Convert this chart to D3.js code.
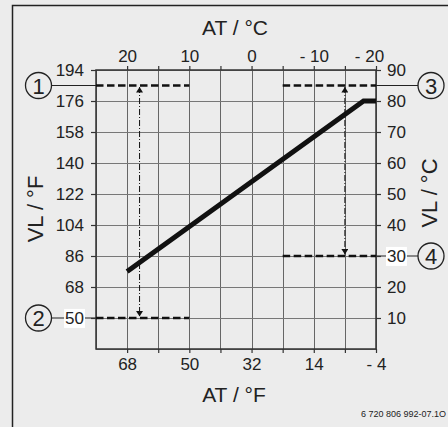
<!DOCTYPE html>
<head>
  <meta charset="utf-8">
  <script src="https://d3js.org/d3.v7.min.js"></script>
  <style>
    body { margin:0; background:#ececec; }
    text { font-family:"Liberation Sans", Arial, sans-serif; fill:#222; }
    .axis path.domain { display:none; }
    .axis line { stroke:#333; stroke-width:1.2; }
    .axis text { font-size:17px; fill:#222; }
  </style>
</head>

<body>
<script>

/* Data */
/* ==== */

// outside temperature (AT) in °C, every 5 degrees gets a grid line
var atGrid = [25, 20, 15, 10, 5, 0, -5, -10, -15, -20];
var atTopLabels = { 20: '20', 10: '10', 0: '0', '-10': '- 10', '-20': '- 20' };
var atBottomLabels = { 20: '68', 10: '50', 0: '32', '-10': '14', '-20': '- 4' };

// flow temperature (VL) in °C, every 10 degrees
var vlGrid = [0, 10, 20, 30, 40, 50, 60, 70, 80, 90];
var vlTicks = [90, 80, 70, 60, 50, 40, 30, 20, 10];
var vlFahrenheit = ['194', '176', '158', '140', '122', '104', '86', '68', '50'];

// heating curve [AT, VL]
var curve = [[20, 25], [-18, 80], [-20, 80]];

// limit lines: [AT from, AT to, VL, marker]
var limits = [
  [25, 10, 85, '1'],
  [25, 10, 10, '2'],
  [-5, -20, 85, '3'],
  [-5, -20, 30, '4']
];

// arrows: [AT, VL top, VL bottom]
var arrows = [[18, 85, 10], [-15, 85, 30]];


/* Set up */
/* ====== */

var width = 448,
    height = 427,
    plot = { left: 96, right: 376, top: 70, bottom: 349 };

var svg = d3.select('body')
  .append('svg')
    .attr('width', width)
    .attr('height', height);

var x = d3.scaleLinear().domain([25, -20]).range([plot.left, plot.right]);
var y = d3.scaleLinear().domain([0, 90]).range([plot.bottom, plot.top]);

// outer frame
svg.append('rect')
    .attr('x', 12.5)
    .attr('y', 5.5)
    .attr('width', width)
    .attr('height', height)
    .attr('fill', 'none')
    .attr('stroke', '#222')
    .attr('stroke-width', 1.5);


// Grid

svg.selectAll('.vgrid')
    .data(atGrid)
    .enter()
  .append('line')
    .attr('x1', function(d) { return Math.round(x(d)) + 0.5; })
    .attr('x2', function(d) { return Math.round(x(d)) + 0.5; })
    .attr('y1', plot.top)
    .attr('y2', plot.bottom)
    .attr('stroke', '#666')
    .attr('stroke-width', 1);

svg.selectAll('.hgrid')
    .data(vlGrid)
    .enter()
  .append('line')
    .attr('x1', plot.left)
    .attr('x2', plot.right)
    .attr('y1', function(d) { return Math.round(y(d)) + 0.5; })
    .attr('y2', function(d) { return Math.round(y(d)) + 0.5; })
    .attr('stroke', '#777')
    .attr('stroke-width', 1);

svg.append('rect')
    .attr('x', plot.left)
    .attr('y', plot.top)
    .attr('width', plot.right - plot.left)
    .attr('height', plot.bottom - plot.top)
    .attr('fill', 'none')
    .attr('stroke', '#333')
    .attr('stroke-width', 1.5);


// Axes

var topAxis = svg.append('g')
    .attr('class', 'axis')
    .attr('transform', 'translate(0,' + plot.top + ')')
    .call(d3.axisTop(x).tickValues(atGrid.slice(1)).tickSize(4).tickPadding(4)
      .tickFormat(function(d) { return atTopLabels[d] || ''; }));

// the last label sits a little inside the corner
topAxis.selectAll('.tick text')
    .filter(function(d) { return d === -20; })
    .attr('dx', -7);

svg.append('g')
    .attr('class', 'axis')
    .attr('transform', 'translate(0,' + plot.bottom + ')')
    .call(d3.axisBottom(x).tickValues(atGrid.slice(1)).tickSize(4).tickPadding(5)
      .tickFormat(function(d) { return atBottomLabels[d] || ''; }));

var leftAxis = svg.append('g')
    .attr('class', 'axis')
    .attr('transform', 'translate(' + plot.left + ',0)')
    .call(d3.axisLeft(y).tickValues(vlTicks).tickSize(5).tickPadding(7)
      .tickFormat(function(d, i) { return vlFahrenheit[i]; }));

var rightAxis = svg.append('g')
    .attr('class', 'axis')
    .attr('transform', 'translate(' + plot.right + ',0)')
    .call(d3.axisRight(y).tickValues(vlTicks).tickSize(5).tickPadding(6));


// Axis titles

svg.append('text')
    .attr('x', 235)
    .attr('y', 35)
    .attr('text-anchor', 'middle')
    .style('font-size', '21px')
    .text('AT / °C');

svg.append('text')
    .attr('x', 234)
    .attr('y', 402)
    .attr('text-anchor', 'middle')
    .style('font-size', '21px')
    .text('AT / °F');

svg.append('text')
    .attr('transform', 'translate(43,209) rotate(-90)')
    .attr('text-anchor', 'middle')
    .style('font-size', '22px')
    .text('VL / °F');

svg.append('text')
    .attr('transform', 'translate(437,193) rotate(-90)')
    .attr('text-anchor', 'middle')
    .style('font-size', '22px')
    .text('VL / °C');


// Heating curve

var line = d3.line()
    .x(function(d) { return x(d[0]); })
    .y(function(d) { return y(d[1]); });

svg.append('path')
    .datum(curve)
    .attr('d', line)
    .attr('fill', 'none')
    .attr('stroke', '#111')
    .attr('stroke-width', 5);


// Limit lines and markers

svg.selectAll('.limit')
    .data(limits)
    .enter()
  .append('line')
    .attr('x1', function(d) { return x(d[0]); })
    .attr('x2', function(d) { return x(d[1]); })
    .attr('y1', function(d) { return y(d[2]); })
    .attr('y2', function(d) { return y(d[2]); })
    .attr('stroke', '#111')
    .attr('stroke-width', 2.6)
    .attr('stroke-dasharray', '7.5,3.5');

// white boxes behind the values that the markers point at
function highlight(axis, value) {
  axis.selectAll('.tick')
    .filter(function(d) { return d === value; })
    .each(function() {
      var t = d3.select(this).select('text'),
          b = t.node().getBBox();
      d3.select(this).insert('rect', 'text')
          .attr('x', b.x - 1)
          .attr('y', b.y)
          .attr('width', b.width + 2)
          .attr('height', b.height)
          .attr('fill', '#fff');
    });
}
highlight(leftAxis, 10);
highlight(rightAxis, 30);

var markerR = 13;

limits.forEach(function(d) {
  var left = d[0] > 0,
      cx = left ? 38.5 : 431,
      cy = y(d[2]);

  svg.append('line')
      .attr('x1', left ? cx + markerR : plot.right)
      .attr('x2', left ? plot.left : cx - markerR)
      .attr('y1', cy)
      .attr('y2', cy)
      .attr('stroke', '#222')
      .attr('stroke-width', 1.2);

  svg.append('circle')
      .attr('cx', cx)
      .attr('cy', cy)
      .attr('r', markerR)
      .attr('fill', '#ececec')
      .attr('stroke', '#222')
      .attr('stroke-width', 1.3);

  svg.append('text')
      .attr('x', cx)
      .attr('y', cy + 8)
      .attr('text-anchor', 'middle')
      .style('font-size', '22px')
      .text(d[3]);
});

// put the highlighted labels above the connector lines
leftAxis.raise();
rightAxis.raise();


// Arrows

svg.append('defs').append('marker')
    .attr('id', 'head')
    .attr('viewBox', '0 0 8 10')
    .attr('refX', 8)
    .attr('refY', 5)
    .attr('markerWidth', 8)
    .attr('markerHeight', 7)
    .attr('markerUnits', 'userSpaceOnUse')
    .attr('orient', 'auto-start-reverse')
  .append('path')
    .attr('d', 'M0,0L8,5L0,10Z')
    .attr('fill', '#111');

svg.selectAll('.arrow')
    .data(arrows)
    .enter()
  .append('line')
    .attr('x1', function(d) { return x(d[0]); })
    .attr('x2', function(d) { return x(d[0]); })
    .attr('y1', function(d) { return y(d[1]) + 1.5; })
    .attr('y2', function(d) { return y(d[2]) - 1.5; })
    .attr('stroke', '#111')
    .attr('stroke-width', 1)
    .attr('stroke-dasharray', '6,2,1,2')
    .attr('marker-start', 'url(#head)')
    .attr('marker-end', 'url(#head)');


// Footnote

svg.append('text')
    .attr('x', 446)
    .attr('y', 417)
    .attr('text-anchor', 'end')
    .style('font-size', '9px')
    .text('6 720 806 992-07.1O');

</script>
</body>
